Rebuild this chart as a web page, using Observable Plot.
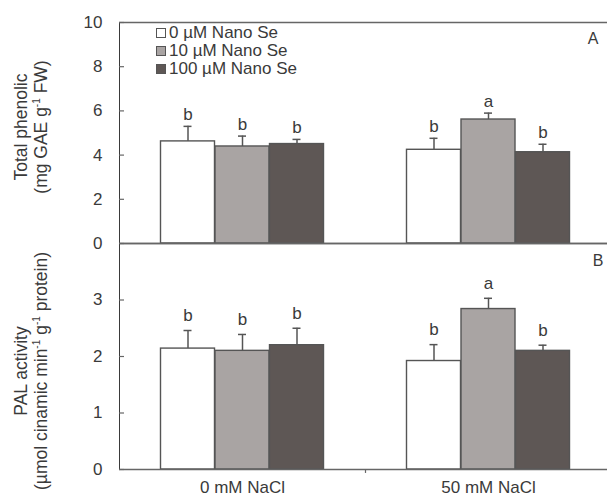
<!DOCTYPE html>
<html><head><meta charset="utf-8">
<script src="https://cdn.jsdelivr.net/npm/d3@7"></script>
<script src="https://cdn.jsdelivr.net/npm/@observablehq/plot@0.6"></script>
<style>
body{margin:0;background:#fff;font-family:"Liberation Sans",Arial,sans-serif;color:#3a3a3a;}
#wrap{position:relative;width:607px;height:497px;overflow:hidden;background:#fff;}
#wrap svg{position:absolute;left:0;top:0;}
.ytitle{position:absolute;white-space:nowrap;text-align:center;font-size:17.5px;line-height:20px;transform:translate(-50%,-50%) rotate(-90deg);}
.ytitle sup{font-size:10px;vertical-align:0;position:relative;top:-7px;}
.legend{position:absolute;left:156px;top:24px;font-size:17px;line-height:18px;}
.legend div{display:flex;align-items:center;height:18px;}
.legend span.sw{display:inline-block;width:8px;height:8px;border:1px solid #555;margin-right:3px;}
.panel{position:absolute;font-size:16px;transform:translate(-50%,-50%);}
</style></head><body><div id="wrap"></div>
<script>
const groups = ["0 mM NaCl", "50 mM NaCl"];
const treatments = ["0 µM Nano Se", "10 µM Nano Se", "100 µM Nano Se"];
const fills = ["#ffffff", "#a9a4a3", "#5e5755"];
// values ordered: group 1 (three treatments), group 2 (three treatments)
const phenolic = [4.62, 4.39, 4.50, 4.24, 5.61, 4.13];
const phenolicErr = [0.68, 0.47, 0.21, 0.52, 0.29, 0.36];
const phenolicLetters = ["b", "b", "b", "b", "a", "b"];
const pal = [2.14, 2.10, 2.20, 1.92, 2.84, 2.10];
const palErr = [0.32, 0.29, 0.30, 0.29, 0.19, 0.10];
const palLetters = ["b", "b", "b", "b", "a", "b"];
const phenolicTicks = [0, 2, 4, 6, 8, 10];
const palTicks = [0, 1, 2, 3];

const W = 607, H = 497, ML = 119;
const AX = "#666";

function panel({values, errs, letters, domain, ticks, mTop, mBottom, showX, letterDy}) {
  const rows = groups.flatMap((g, gi) => treatments.map((t, ti) => ({
    group: g, treatment: t, ti,
    value: values[gi * 3 + ti], err: errs[gi * 3 + ti], letter: letters[gi * 3 + ti]
  })));
  const marks = [];
  treatments.forEach((t, ti) => {
    const sub = rows.filter(d => d.ti === ti);
    const dx = (ti - 1) * 54.5;
    marks.push(
      Plot.ruleX(sub, {x: "group", y1: "value", y2: d => d.value + d.err, dx, stroke: "#555", strokeWidth: 1.5}),
      Plot.tickY(sub, {x: "group", y: d => d.value + d.err, dx, insetLeft: 119, insetRight: 119, stroke: "#555", strokeWidth: 1.5}),
      Plot.barY(sub, {x: "group", y: "value", dx, insetLeft: 96, insetRight: 96, fill: fills[ti], stroke: "#555", strokeWidth: 1.4}),
      Plot.text(sub, {x: "group", y: d => d.value + d.err, text: "letter", dx, dy: letterDy, fontSize: 17, fill: "#3a3a3a"})
    );
  });
  marks.push(
    Plot.tickY(ticks, {y: d => d, insetLeft: 0, insetRight: W - ML - 5, stroke: AX, strokeWidth: 1.2}),
    Plot.ruleY([domain[1]], {stroke: AX, strokeWidth: 1.3}),
    Plot.ruleY([0], {stroke: AX, strokeWidth: 1.3})
  );
  if (showX) {
    marks.push(Plot.ruleX([groups[0]], {x: d => d, dx: 123, y1: 0, y2: -0.07, stroke: AX, strokeWidth: 1.2}));
  }
  return Plot.plot({
    width: W, height: H,
    marginLeft: ML, marginRight: 0, marginTop: mTop, marginBottom: mBottom,
    style: {background: "transparent", fontSize: "17px", fontFamily: "Liberation Sans, Arial, sans-serif", color: "#3a3a3a"},
    x: {type: "band", domain: groups, range: [ML, 611], padding: 0,
        axis: showX ? "bottom" : null, tickSize: 0, tickPadding: 11, label: null},
    y: {domain, ticks, tickFormat: d3.format("d"), tickSize: 0, tickPadding: 17, label: null, line: true},
    marks
  });
}

const wrap = document.getElementById("wrap");
wrap.appendChild(panel({values: phenolic, errs: phenolicErr, letters: phenolicLetters,
  domain: [0, 10], ticks: phenolicTicks, mTop: 22, mBottom: H - 243, showX: false, letterDy: -12}));
wrap.appendChild(panel({values: pal, errs: palErr, letters: palLetters,
  domain: [0, 4], ticks: palTicks, mTop: 243, mBottom: H - 469, showX: true, letterDy: -15}));

// y titles
const t1 = document.createElement("div");
t1.className = "ytitle"; t1.style.left = "32px"; t1.style.top = "127px";
t1.innerHTML = "Total phenolic<br>(mg GAE g<sup>-1</sup> FW)";
wrap.appendChild(t1);
const t2 = document.createElement("div");
t2.className = "ytitle"; t2.style.left = "32px"; t2.style.top = "371px";
t2.innerHTML = "PAL activity<br>(µmol cinamic min<sup>-1</sup> g<sup>-1</sup> protein)";
wrap.appendChild(t2);

// legend
const lg = document.createElement("div");
lg.className = "legend";
lg.innerHTML = treatments.map((t, i) => `<div><span class="sw" style="background:${fills[i]}"></span>${t}</div>`).join("");
wrap.appendChild(lg);

// panel letters
[["A", 593, 39], ["B", 598, 261]].forEach(([s, x, y]) => {
  const d = document.createElement("div");
  d.className = "panel"; d.textContent = s; d.style.left = x + "px"; d.style.top = y + "px";
  wrap.appendChild(d);
});
</script></body></html>
